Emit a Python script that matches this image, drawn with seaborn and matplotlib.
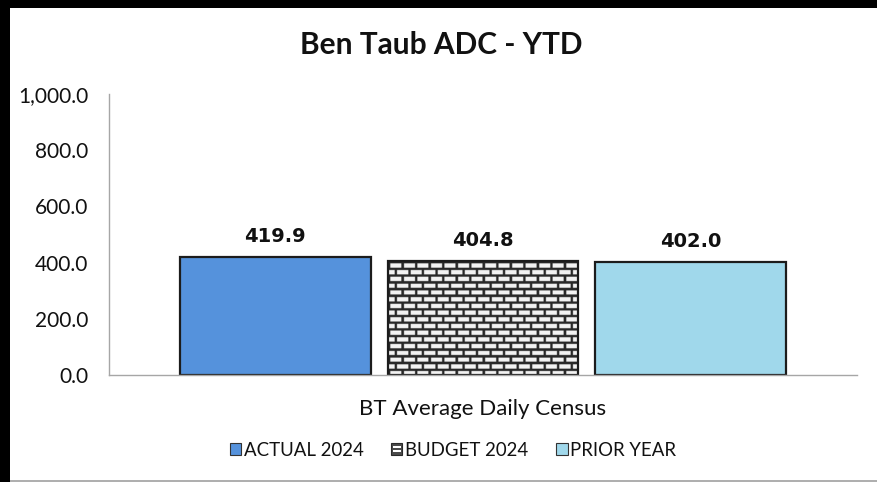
import numpy as np
import pandas as pd
import matplotlib
matplotlib.use("Agg")
import matplotlib.pyplot as plt
import seaborn as sns
from matplotlib.patches import Rectangle, Patch
from matplotlib.lines import Line2D

# ---- data -------------------------------------------------------------
title = "Ben Taub ADC - YTD"
category = ["BT Average Daily Census"]
series = ["ACTUAL 2024", "BUDGET 2024", "PRIOR YEAR"]
values = [419.9, 404.8, 402.0]
y_ticks = [0, 200, 400, 600, 800, 1000]

colors = {"ACTUAL 2024": "#5592DC", "BUDGET 2024": "#FFFFFF", "PRIOR YEAR": "#A0D8EB"}
EDGE = "#1c1c1c"
AXIS_GREY = "#A6A6A6"

df = pd.DataFrame({"metric": category * len(series), "series": series, "value": values})

# ---- figure -----------------------------------------------------------
sns.set_theme(style="white")
plt.rcParams["font.family"] = ["Lato", "DejaVu Sans"]

W, H, DPI = 878, 482, 100
fig = plt.figure(figsize=(W / DPI, H / DPI), dpi=DPI)
fig.patch.set_facecolor("white")
ax = fig.add_axes([109 / W, 1 - 375 / H, (857 - 109) / W, (375 - 94) / H])

sns.barplot(data=df, x="metric", y="value", hue="series", hue_order=series,
            palette=colors, saturation=1, width=0.834, gap=0.082,
            edgecolor=EDGE, linewidth=1.6, errorbar=None, legend=False, ax=ax)

ax.set_xlim(-0.5, 0.5)
ax.set_ylim(0, 1000)
ax.set_yticks(y_ticks)
ax.set_yticklabels([f"{v:,.1f}" for v in y_ticks])
ax.set_xlabel("")
ax.set_ylabel("")

for side in ("top", "right"):
    ax.spines[side].set_visible(False)
for side in ("left", "bottom"):
    ax.spines[side].set_color(AXIS_GREY)
    ax.spines[side].set_linewidth(1.0)
ax.tick_params(axis="y", length=6, width=1, color=AXIS_GREY, pad=9,
               labelsize=15, labelcolor="#111111")
ax.tick_params(axis="x", length=0, pad=17, labelsize=16, labelcolor="#111111")

# ---- brick fill for the budget bar ------------------------------------
def brick_texture(w_px, h_px, course=6.7, brick=13.5, mortar=2.4, scale=3):
    ys = (np.arange(int(h_px * scale)) + 0.5) / scale
    xs = (np.arange(int(w_px * scale)) + 0.5) / scale
    yy, xx = np.meshgrid(ys, xs, indexing="ij")
    row = np.floor(yy / course)
    fy = yy - row * course
    shift = (row % 2) * brick / 2
    fx = (xx + shift) % brick
    is_mortar = (fy < mortar) | (fx < mortar)
    img = np.where(is_mortar, 0.16, 0.95)
    return np.dstack([img, img, img])

budget_bar = ax.containers[1][0]
bx, by = budget_bar.get_x(), budget_bar.get_y()
bw, bh = budget_bar.get_width(), budget_bar.get_height()
(p0x, p0y) = ax.transData.transform((bx, by))
(p1x, p1y) = ax.transData.transform((bx + bw, by + bh))
tex = brick_texture(abs(p1x - p0x), abs(p1y - p0y))
im = ax.imshow(tex, extent=(bx, bx + bw, by, by + bh), origin="upper",
               interpolation="bilinear", aspect="auto",
               zorder=budget_bar.get_zorder() - 0.1)
im.set_clip_path(budget_bar)
budget_bar.set_facecolor("none")
ax.set_xlim(-0.5, 0.5)
ax.set_ylim(0, 1000)

# ---- value labels -----------------------------------------------------
for cont in ax.containers:
    ax.bar_label(cont, fmt="%.1f", padding=8, fontsize=14, fontweight="bold",
                 family="DejaVu Sans", color="#111111")

# ---- legend -----------------------------------------------------------
class BrickSwatch:
    pass


class BrickHandler:
    def legend_artist(self, legend, orig_handle, fontsize, handlebox):
        x0, y0 = -handlebox.xdescent, -handlebox.ydescent
        w, h = handlebox.width, handlebox.height
        tr = handlebox.get_transform()
        base = Rectangle((x0, y0), w, h, facecolor="#4a4a4a", edgecolor="#2a2a2a",
                         linewidth=0.8, transform=tr)
        handlebox.add_artist(base)
        for frac in (0.22, 0.58):
            handlebox.add_artist(Rectangle((x0 + w * 0.15, y0 + h * frac), w * 0.7, h * 0.2,
                                           facecolor="white", linewidth=0, transform=tr))
        return base


handles = [Patch(facecolor=colors["ACTUAL 2024"], edgecolor="#333333", linewidth=0.8),
           BrickSwatch(),
           Patch(facecolor=colors["PRIOR YEAR"], edgecolor="#333333", linewidth=0.8)]
fig.legend(handles, series, handler_map={BrickSwatch: BrickHandler()},
           loc="center", bbox_to_anchor=(453 / W, 1 - 450 / H), ncol=3,
           frameon=False, fontsize=13.4, handlelength=0.6, handleheight=0.6,
           handletextpad=0.15, columnspacing=1.5, labelcolor="#111111")

# ---- title and frame --------------------------------------------------
fig.text(441 / W, 1 - 45 / H, title, ha="center", va="center",
         fontsize=21.5, fontweight="bold", color="#111111")

fig.patches.append(Rectangle((0, 1 - 8 / H), 1, 8 / H, transform=fig.transFigure,
                             facecolor="black", edgecolor="none", zorder=10))
fig.patches.append(Rectangle((0, 0), 10 / W, 1, transform=fig.transFigure,
                             facecolor="black", edgecolor="none", zorder=10))
fig.lines.append(Line2D([10 / W, 1], [1.5 / H, 1.5 / H], transform=fig.transFigure,
                        color="#A0A0A0", linewidth=1.2))

fig.savefig("out.png", dpi=DPI, facecolor="white")
